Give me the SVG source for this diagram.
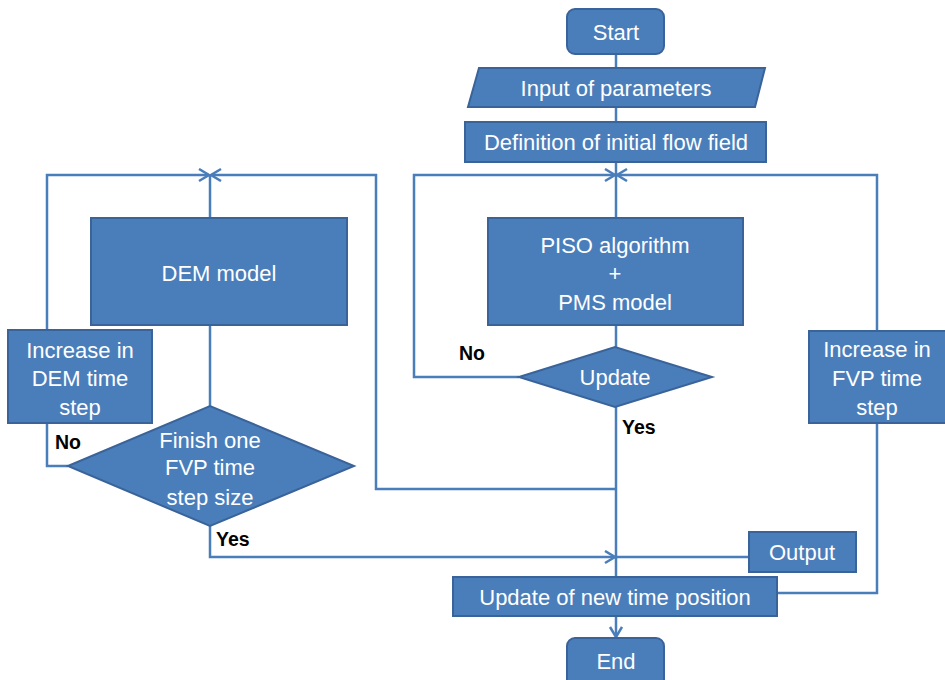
<svg xmlns="http://www.w3.org/2000/svg" width="945" height="680" viewBox="0 0 945 680">
<style>
.n{fill:#4a7ebb;stroke:#3a639a;stroke-width:2}
.t{font-family:"Liberation Sans",Arial,sans-serif;font-size:22px;fill:#ffffff;text-anchor:middle}
.l{font-family:"Liberation Sans",Arial,sans-serif;font-size:19.5px;font-weight:bold;fill:#000000}
.c{fill:none;stroke:#4a7ebb;stroke-width:2.5}
</style>
<defs>
<marker id="a" markerUnits="userSpaceOnUse" markerWidth="14" markerHeight="16" refX="11" refY="7" orient="auto" viewBox="0 0 14 16">
<path d="M1,1 L11,7 L1,13" fill="none" stroke="#4a7ebb" stroke-width="2.5"/>
</marker>
</defs>
<rect width="945" height="680" fill="#ffffff"/>
<g id="connectors">
<path class="c" d="M616,54 V68"/>
<path class="c" d="M616,107 V122"/>
<path class="c" d="M616,162 V218"/>
<path class="c" d="M616,325 V347"/>
<path class="c" d="M519,377 H414 V175 H615" marker-end="url(#a)"/>
<path class="c" d="M877,331 V175 H617" marker-end="url(#a)"/>
<path class="c" d="M616,407 V577"/>
<path class="c" d="M616,489 H376 V175 H211" marker-end="url(#a)"/>
<path class="c" d="M47,330 V175 H209" marker-end="url(#a)"/>
<path class="c" d="M210,175 V218"/>
<path class="c" d="M210,325 V406"/>
<path class="c" d="M68,466 H47 V423"/>
<path class="c" d="M210,526 V557 H615" marker-end="url(#a)"/>
<path class="c" d="M749,557 H616"/>
<path class="c" d="M777,593 H877 V423"/>
<path class="c" d="M616,616 V637" marker-end="url(#a)"/>
</g>
<g id="start"><rect class="n" x="567" y="9" width="97" height="45" rx="8"/><text class="t" x="616" y="40">Start</text></g>
<g id="input"><polygon class="n" points="479,68 765,68 755,107 468,107"/><text class="t" x="616" y="96">Input of parameters</text></g>
<g id="definition"><rect class="n" x="465" y="122" width="301" height="40"/><text class="t" x="616" y="150">Definition of initial flow field</text></g>
<g id="dem"><rect class="n" x="91" y="218" width="256" height="107"/><text class="t" x="219" y="281">DEM model</text></g>
<g id="increase-dem"><rect class="n" x="8" y="330" width="144" height="93"/><text class="t" x="80" y="358">Increase in</text><text class="t" x="80" y="386">DEM time</text><text class="t" x="80" y="415">step</text></g>
<g id="finish"><polygon class="n" points="68,466 210,406 354,466 210,526"/><text class="t" x="210" y="448">Finish one</text><text class="t" x="210" y="475">FVP time</text><text class="t" x="210" y="505">step size</text></g>
<g id="piso"><rect class="n" x="488" y="218" width="255" height="107"/><text class="t" x="615" y="253">PISO algorithm</text><text class="t" x="615" y="281">+</text><text class="t" x="615" y="310">PMS model</text></g>
<g id="update"><polygon class="n" points="519,377 615,347 712,377 615,407"/><text class="t" x="615" y="385">Update</text></g>
<g id="increase-fvp"><rect class="n" x="809" y="331" width="140" height="92"/><text class="t" x="877" y="357">Increase in</text><text class="t" x="877" y="386">FVP time</text><text class="t" x="877" y="415">step</text></g>
<g id="output"><rect class="n" x="749" y="532" width="107" height="40"/><text class="t" x="802" y="560">Output</text></g>
<g id="update-time"><rect class="n" x="453" y="577" width="324" height="39"/><text class="t" x="615" y="605">Update of new time position</text></g>
<g id="end"><rect class="n" x="567" y="638" width="97" height="50" rx="8"/><text class="t" x="616" y="669">End</text></g>
<g id="labels">
<text class="l" x="55" y="449">No</text>
<text class="l" x="216" y="546">Yes</text>
<text class="l" x="459" y="360">No</text>
<text class="l" x="622" y="434">Yes</text>
</g>
</svg>
